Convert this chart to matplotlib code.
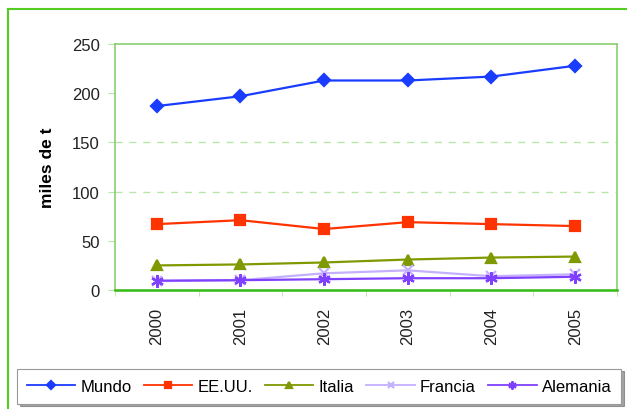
import matplotlib
matplotlib.use('Agg')
import matplotlib.pyplot as plt
from matplotlib.lines import Line2D

plt.rcParams['font.family'] = ['Liberation Sans', 'DejaVu Sans']

years = ['2000', '2001', '2002', '2003', '2004', '2005']
mundo = [187, 197, 213, 213, 217, 228]
eeuu = [67, 71, 62, 69, 67, 65]
italia = [25, 26, 28, 31, 33, 34]
francia = [9, 10, 17, 20, 14, 16]
alemania = [9.5, 10, 11, 12, 12, 13.5]

series = [
    ('Mundo', mundo, '#1a3cff', 'D', 6),
    ('EE.UU.', eeuu, '#ff3300', 's', 7),
    ('Italia', italia, '#7f9900', '^', 7.5),
    ('Francia', francia, '#c4b0ff', 'x', 7),
    ('Alemania', alemania, '#8040ff', (6, 2, 0), 9),
]

fig = plt.figure(figsize=(6.27, 4.10), dpi=100)
ax = fig.add_axes([0.1834, 0.2902, 0.8006, 0.5998])

x = list(range(len(years)))
for name, vals, col, mk, ms in series:
    ax.plot(x, vals, color=col, marker=mk, markersize=ms, linewidth=1.6,
            markeredgewidth=1.6, label=name)

for lvl in [100, 150]:
    ax.axhline(lvl, color='#b8e6a8', linestyle=(0, (5, 5)), linewidth=1, zorder=0)

ax.set_xlim(-0.5, 5.5)
ax.set_ylim(0, 250)
ax.set_yticks(range(0, 251, 50))
ax.set_xticks(x)
ax.set_xticklabels(years, rotation=90, fontsize=12, color='#222222')
ax.set_xticks([i + 0.5 for i in range(-1, 6)], minor=True)
ax.tick_params(axis='x', which='major', length=0, pad=12)
ax.tick_params(axis='x', which='minor', length=4, color='#b8e6a8', direction='out')
ax.tick_params(axis='y', length=5, color='#b8e6a8', labelsize=12, labelcolor='#222222', pad=6)
ax.set_ylabel('miles de t', fontsize=12.5, fontweight='bold', labelpad=12)

for s in ['left', 'top', 'right']:
    ax.spines[s].set_color('#88d070')
    ax.spines[s].set_linewidth(1.2)
ax.spines['bottom'].set_color('#33bb11')
ax.spines['bottom'].set_linewidth(1.8)

# outer chart border (green)
fig.add_artist(Line2D([8 / 627, 8 / 627], [0, 1 - 10 / 410], color='#55cc22', linewidth=1.5))
fig.add_artist(Line2D([8 / 627, 1], [1 - 10 / 410, 1 - 10 / 410], color='#55cc22', linewidth=1.5))

leg = fig.legend(loc='center', bbox_to_anchor=(0.509, 0.056), ncol=5, frameon=True,
                 fancybox=False, shadow=True, fontsize=12, handlelength=2.9,
                 handletextpad=0.3, columnspacing=0.75, borderpad=0.6, markerscale=0.65)
leg.get_frame().set_edgecolor('#999999')
leg.get_frame().set_linewidth(0.8)
for h in leg.get_lines():
    h.set_linewidth(1.3)

fig.savefig('out.png', dpi=100)
